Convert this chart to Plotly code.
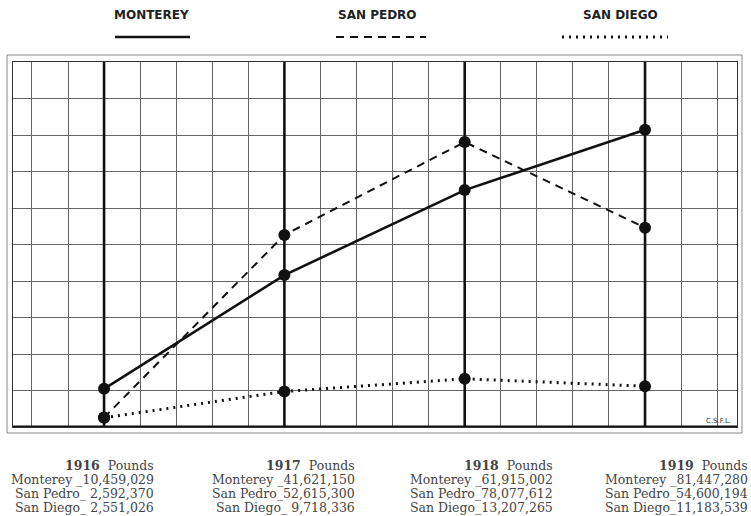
import plotly.graph_objects as go

W, H = 751, 516

years = [1916, 1917, 1918, 1919]
series_names = ["Monterey", "San Pedro", "San Diego"]
# plotted values (millions of pounds)
monterey = [10.46, 41.62, 64.9, 81.45]
san_pedro = [2.59, 52.62, 78.08, 54.60]
san_diego = [2.55, 9.72, 13.21, 11.18]
# printed figures under the chart
monterey_lbl = ["10,459,029", "41,621,150", "61,915,002", "81,447,280"]
san_pedro_lbl = ["2,592,370", "52,615,300", "78,077,612", "54,600,194"]
san_diego_lbl = ["2,551,026", "9,718,336", "13,207,265", "11,183,539"]
legend_titles = ["MONTEREY", "SAN PEDRO", "SAN DIEGO"]
y_top = 100

def px_x(p):
    return p / W

def px_y(p):
    return 1 - p / H

fig = go.Figure()

# thick year lines, drawn as a trace so they sit above the grid
yl_x, yl_y = [], []
for yr in years:
    yl_x += [yr, yr, None]
    yl_y += [0, y_top, None]
fig.add_trace(go.Scatter(x=yl_x, y=yl_y, mode="lines", line=dict(color="#111", width=2.6),
                         hoverinfo="skip", showlegend=False))

styles = [
    dict(color="#111", width=2.6, dash="solid"),
    dict(color="#111", width=2.0, dash="8px,6px"),
    dict(color="#111", width=3.0, dash="2px,5px"),
]
for name, vals, st in zip(series_names, [monterey, san_pedro, san_diego], styles):
    fig.add_trace(go.Scatter(
        x=years, y=vals, mode="lines+markers", name=name,
        line=st, marker=dict(size=12, color="#111"), showlegend=False,
    ))

shapes = []
# thick base line
shapes.append(dict(type="line", xref="paper", yref="y", x0=px_x(13), x1=px_x(737), y0=0, y1=0,
                   line=dict(color="#111", width=3)))
# outer frame
shapes.append(dict(type="rect", xref="paper", yref="paper", x0=px_x(7), x1=px_x(742),
                   y0=px_y(433), y1=px_y(55), line=dict(color="#888", width=1)))

annotations = []
# legend
leg_cx = [151, 377, 620]
leg_x0 = [115, 336, 562]
leg_x1 = [190, 426, 668]
for t, cx, a, b, st in zip(legend_titles, leg_cx, leg_x0, leg_x1, styles):
    annotations.append(dict(text="<b>" + t + "</b>", x=px_x(cx), y=px_y(15), xref="paper", yref="paper",
                            showarrow=False, xanchor="center", yanchor="middle",
                            font=dict(family="DejaVu Sans", size=12, color="#222")))
    shapes.append(dict(type="line", xref="paper", yref="paper", x0=px_x(a), x1=px_x(b),
                       y0=px_y(37), y1=px_y(37), line=dict(color=st["color"], width=st["width"], dash=st["dash"])))

annotations.append(dict(text="C.S.F.L.", x=px_x(718), y=px_y(421), xref="paper", yref="paper",
                        showarrow=False, xanchor="center", yanchor="middle",
                        font=dict(family="DejaVu Sans", size=7, color="#333")))

# bottom text blocks
block_right = [156, 357, 555, 750]
line_y = [465, 479, 493, 507]
for i, yr in enumerate(years):
    lines = [
        f"<b>{yr}</b>  Pounds",
        f"Monterey _{monterey_lbl[i]}",
        f"San Pedro_{san_pedro_lbl[i]}" if len(san_pedro_lbl[i]) > 9 else f"San Pedro_ {san_pedro_lbl[i]}",
        f"San Diego_{san_diego_lbl[i]}" if len(san_diego_lbl[i]) > 9 else f"San Diego_ {san_diego_lbl[i]}",
    ]
    for ln, yy in zip(lines, line_y):
        annotations.append(dict(text=ln, x=px_x(block_right[i]), y=px_y(yy), xref="paper", yref="paper",
                                showarrow=False, xanchor="right", yanchor="middle", align="right",
                                font=dict(family="DejaVu Serif", size=12.5, color="#444")))

fig.update_layout(
    width=W, height=H, margin=dict(l=0, r=0, t=0, b=0),
    paper_bgcolor="white", plot_bgcolor="white",
    shapes=shapes, annotations=annotations,
    xaxis=dict(domain=[px_x(13), px_x(737)], range=[1915.495, 1919.51], tick0=1915.6, dtick=0.2,
               showgrid=True, gridcolor="#666", gridwidth=1, showticklabels=False, ticks="",
               zeroline=False, showline=True, linecolor="#333", linewidth=1, mirror=True, fixedrange=True),
    yaxis=dict(domain=[px_y(427), px_y(62)], range=[0, y_top], dtick=10,
               showgrid=True, gridcolor="#666", gridwidth=1, showticklabels=False, ticks="",
               zeroline=False, showline=True, linecolor="#333", linewidth=1, mirror=True, fixedrange=True),
)

fig.write_html("out.html", config={"displayModeBar": False, "staticPlot": True},
               post_script="document.body.style.margin='0px';document.body.style.overflow='hidden';")
